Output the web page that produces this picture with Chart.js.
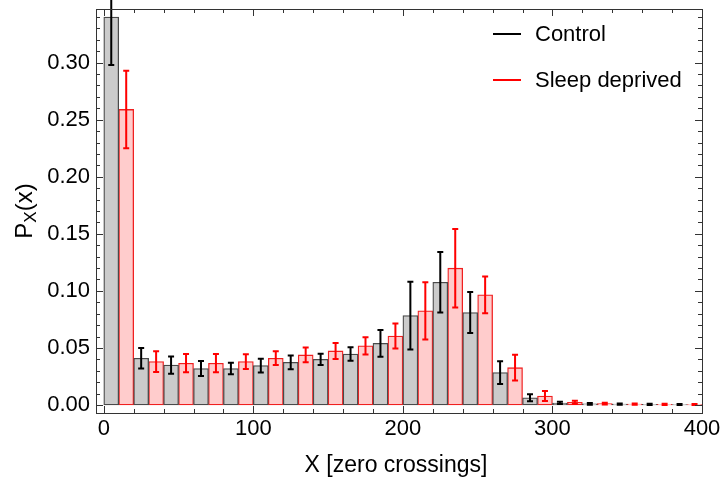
<!DOCTYPE html>
<html>
<head>
<meta charset="utf-8">
<script src="https://cdn.jsdelivr.net/npm/chart.js@4.4.1/dist/chart.umd.min.js"></script>
<style>
  html, body { margin: 0; padding: 0; background: #fff; }
</style>
</head>
<body>
<canvas id="histChart" width="721" height="478"></canvas>
<script>
// bin layout: each 20-wide bin holds control in the left half, sleep deprived in the right half
const controlX = [5, 25, 45, 65, 85, 105, 125, 145, 165, 185, 205, 225, 245, 265, 285, 305, 325, 345, 365, 385];
const sleepX   = [15, 35, 55, 75, 95, 115, 135, 155, 175, 195, 215, 235, 255, 275, 295, 315, 335, 355, 375, 395];

const controlP   = [0.340, 0.041, 0.035, 0.032, 0.032, 0.0345, 0.0374, 0.040, 0.0447, 0.054, 0.0784, 0.1076, 0.081, 0.0284, 0.0064, 0.0018, 0.0010, 0.0008, 0.0006, 0.0004];
const controlErr = [0.042, 0.009, 0.0075, 0.0065, 0.005, 0.006, 0.006, 0.005, 0.006, 0.0117, 0.0297, 0.0265, 0.018, 0.010, 0.003, 0.001, 0.0008, 0.0006, 0.0005, 0.0004];
const sleepP     = [0.259, 0.038, 0.0366, 0.0366, 0.038, 0.041, 0.0439, 0.0474, 0.0518, 0.0605, 0.0825, 0.1199, 0.0965, 0.0327, 0.0079, 0.0023, 0.0012, 0.0008, 0.0006, 0.0004];
const sleepErr   = [0.034, 0.009, 0.008, 0.008, 0.0065, 0.006, 0.0065, 0.007, 0.0075, 0.011, 0.025, 0.0344, 0.016, 0.0113, 0.0044, 0.0015, 0.0008, 0.0006, 0.0005, 0.0004];

const xTickLabels = [0, 100, 200, 300, 400];
const yTickLabels = [0, 0.05, 0.10, 0.15, 0.20, 0.25, 0.30];

const FONT = '"Liberation Sans", Arial, sans-serif';

// error bars, drawn through the chart's own scales
const errorBars = {
  id: 'errorBars',
  afterDatasetsDraw(chart) {
    const ctx = chart.ctx;
    const xs = chart.scales.x, ys = chart.scales.y;
    chart.data.datasets.forEach(ds => {
      ctx.save();
      ctx.strokeStyle = ds.errColor;
      ctx.lineWidth = 2;
      ds.data.forEach((p, i) => {
        const px = xs.getPixelForValue(p.x);
        const top = ys.getPixelForValue(p.y + ds.err[i]);
        const bot = ys.getPixelForValue(p.y - ds.err[i]);
        ctx.beginPath();
        ctx.moveTo(px, top); ctx.lineTo(px, bot);
        ctx.moveTo(px - 3, top); ctx.lineTo(px + 3, top);
        ctx.moveTo(px - 3, bot); ctx.lineTo(px + 3, bot);
        ctx.stroke();
      });
      ctx.restore();
    });
  }
};

// Mathematica-like frame with inward ticks, legend and axis titles
const frameDecor = {
  id: 'frameDecor',
  afterDraw(chart) {
    const ctx = chart.ctx;
    const a = chart.chartArea;
    const xs = chart.scales.x, ys = chart.scales.y;
    ctx.save();
    ctx.strokeStyle = '#333';
    ctx.lineWidth = 1;
    ctx.strokeRect(Math.round(a.left) + 0.5, Math.round(a.top) + 0.5, Math.round(a.right - a.left), Math.round(a.bottom - a.top));

    ctx.beginPath();
    for (let v = 0; v <= 400; v += 20) {
      const px = Math.round(xs.getPixelForValue(v)) + 0.5;
      const len = v % 100 === 0 ? 7 : 4;
      ctx.moveTo(px, a.bottom); ctx.lineTo(px, a.bottom - len);
      ctx.moveTo(px, a.top); ctx.lineTo(px, a.top + len);
    }
    for (let k = 0; k <= 34; k++) {
      const v = k / 100;
      const py = Math.round(ys.getPixelForValue(v)) + 0.5;
      const len = k % 5 === 0 ? 7 : 4;
      ctx.moveTo(a.left, py); ctx.lineTo(a.left + len, py);
      ctx.moveTo(a.right, py); ctx.lineTo(a.right - len, py);
    }
    ctx.stroke();

    // legend
    ctx.font = '22px ' + FONT;
    ctx.textBaseline = 'middle';
    ctx.textAlign = 'left';
    chart.data.datasets.forEach((ds, i) => {
      const y = a.top + 25 + i * 46;
      ctx.strokeStyle = ds.errColor;
      ctx.lineWidth = 2;
      ctx.beginPath();
      ctx.moveTo(493, y); ctx.lineTo(521, y);
      ctx.stroke();
      ctx.fillStyle = '#000';
      ctx.fillText(ds.label, 535, y + 1);
    });

    // x title
    ctx.font = '23px ' + FONT;
    ctx.textAlign = 'center';
    ctx.textBaseline = 'alphabetic';
    ctx.fillText('X [zero crossings]', (a.left + a.right) / 2 - 3, 472);

    // y title with subscript
    ctx.translate(32, (a.top + a.bottom) / 2);
    ctx.rotate(-Math.PI / 2);
    const big = '24px ' + FONT, small = '17px ' + FONT;
    ctx.font = big; const wP = ctx.measureText('P').width; const wPar = ctx.measureText('(x)').width;
    ctx.font = small; const wX = ctx.measureText('X').width;
    let x0 = -(wP + wX + wPar) / 2;
    ctx.textAlign = 'left';
    ctx.font = big; ctx.fillText('P', x0, 0);
    ctx.font = small; ctx.fillText('X', x0 + wP, 4);
    ctx.font = big; ctx.fillText('(x)', x0 + wP + wX, 0);
    ctx.restore();
  }
};

const barOpts = { grouped: false, barPercentage: 1, categoryPercentage: 1, borderWidth: 1.3, borderSkipped: false };

new Chart(document.getElementById('histChart'), {
  type: 'bar',
  data: {
    datasets: [
      Object.assign({
        label: 'Control',
        data: controlX.map((x, i) => ({ x, y: controlP[i] })),
        err: controlErr,
        errColor: '#000000',
        backgroundColor: '#cbcbcb',
        borderColor: '#4a4a4a'
      }, barOpts),
      Object.assign({
        label: 'Sleep deprived',
        data: sleepX.map((x, i) => ({ x, y: sleepP[i] })),
        err: sleepErr,
        errColor: '#ff0000',
        backgroundColor: '#ffcccc',
        borderColor: '#f02020'
      }, barOpts)
    ]
  },
  options: {
    responsive: false,
    animation: false,
    layout: { padding: { top: 9, right: 19, left: 0, bottom: 0 } },
    plugins: { legend: { display: false }, tooltip: { enabled: false } },
    scales: {
      x: {
        type: 'linear',
        min: -5.2,
        max: 400,
        offset: false,
        grid: { display: false, drawTicks: false },
        border: { display: false },
        afterBuildTicks: s => { s.ticks = xTickLabels.map(v => ({ value: v })); },
        afterFit: s => { s.height = 65; s.paddingLeft = 0; s.paddingRight = 0; },
        ticks: { color: '#000', padding: 3, maxRotation: 0, font: { family: FONT, size: 22 }, callback: v => String(v) }
      },
      y: {
        type: 'linear',
        min: -0.007,
        max: 0.347,
        grid: { display: false, drawTicks: false },
        border: { display: false },
        afterBuildTicks: s => { s.ticks = yTickLabels.map(v => ({ value: v })); },
        afterFit: s => { s.width = 96; s.paddingTop = 0; s.paddingBottom = 0; },
        ticks: { color: '#000', padding: 6, font: { family: FONT, size: 22 }, callback: v => v.toFixed(2) }
      }
    }
  },
  plugins: [errorBars, frameDecor]
});
</script>
</body>
</html>
